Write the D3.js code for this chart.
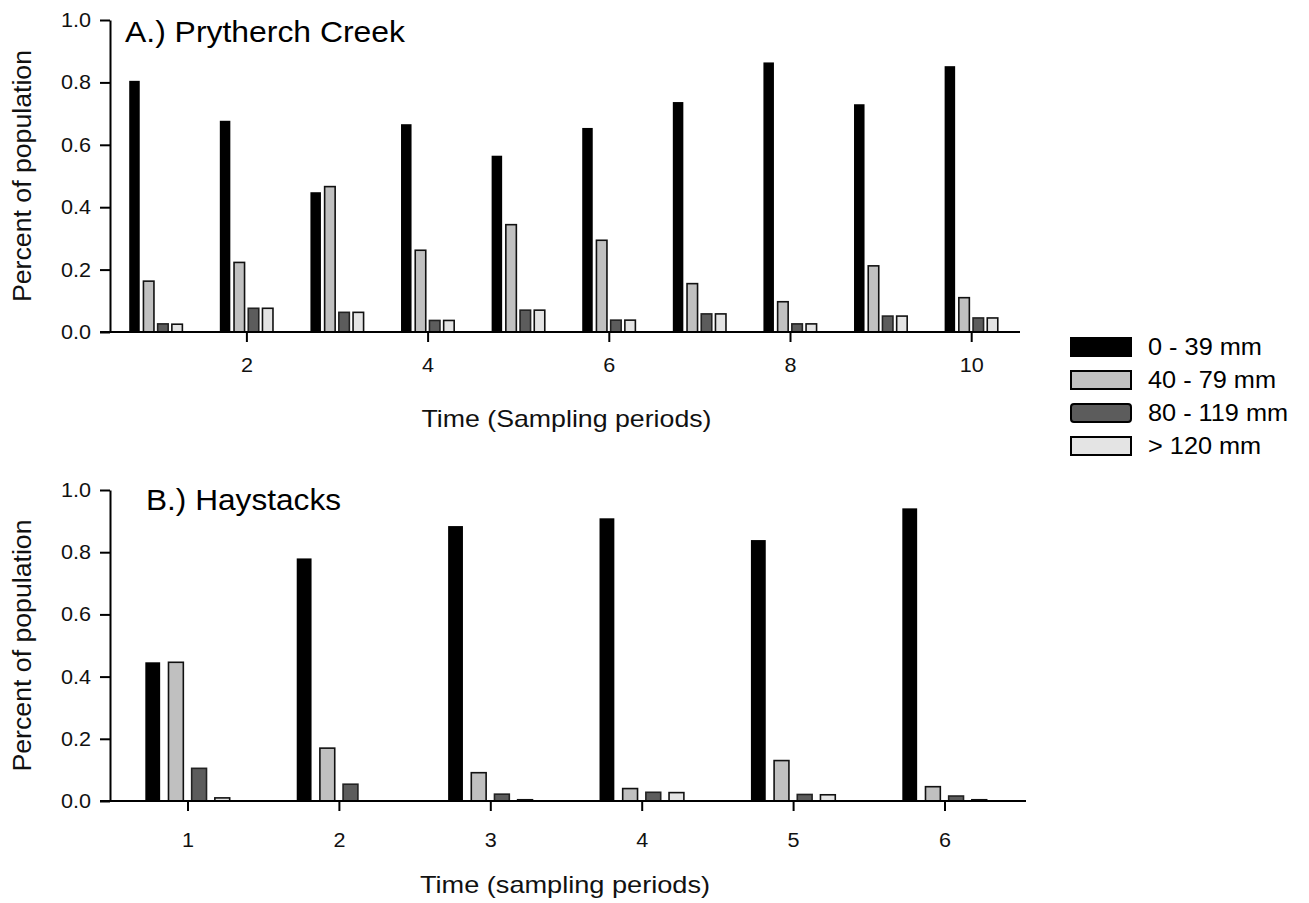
<!DOCTYPE html>
<html>
<head>
<meta charset="utf-8">
<script src="https://cdn.jsdelivr.net/npm/d3@7"></script>
<style>
  html, body { margin: 0; padding: 0; background: #fff; }
  svg { display: block; font-family: "Liberation Sans", Arial, Helvetica, sans-serif; }
</style>
</head>
<body>
<svg id="chart" width="1309" height="903"></svg>
<script>
// ---------- DATA ----------
const seriesNames = ["0 - 39 mm", "40 - 79 mm", "80 - 119 mm", "> 120 mm"];
const seriesFill = ["#000000", "#c0c0c0", "#5c5c5c", "#e4e4e4"];
const seriesStroke = ["#000000", "#111111", "#222222", "#111111"];

// Panel A: Prytherch Creek, sampling periods 1..10
const periodsA = [1, 2, 3, 4, 5, 6, 7, 8, 9, 10];
const a_0_39   = [0.805, 0.677, 0.448, 0.666, 0.565, 0.654, 0.737, 0.864, 0.730, 0.852];
const a_40_79  = [0.163, 0.223, 0.466, 0.262, 0.344, 0.294, 0.155, 0.097, 0.212, 0.110];
const a_80_119 = [0.026, 0.076, 0.063, 0.037, 0.070, 0.038, 0.058, 0.026, 0.051, 0.045];
const a_120    = [0.025, 0.076, 0.063, 0.037, 0.070, 0.038, 0.058, 0.026, 0.051, 0.045];
const tickValuesA = [2, 4, 6, 8, 10];

// Panel B: Haystacks, sampling periods 1..6
const periodsB = [1, 2, 3, 4, 5, 6];
const b_0_39   = [0.446, 0.780, 0.884, 0.909, 0.839, 0.941];
const b_40_79  = [0.446, 0.170, 0.091, 0.040, 0.130, 0.046];
const b_80_119 = [0.105, 0.054, 0.022, 0.028, 0.021, 0.016];
const b_120    = [0.010, 0.000, 0.004, 0.027, 0.020, 0.004];
const tickValuesB = [1, 2, 3, 4, 5, 6];

const yTicks = [0, 0.2, 0.4, 0.6, 0.8, 1.0];

// ---------- HELPERS ----------
const svg = d3.select("#chart");
function stretch(sel, factor) {
  sel.each(function () {
    const w = this.getComputedTextLength();
    this.setAttribute("textLength", (w * factor).toFixed(1));
    this.setAttribute("lengthAdjust", "spacingAndGlyphs");
  });
}

function panel(opts) {
  const g = svg.append("g");
  const x = d3.scaleLinear().domain(opts.xDomain).range(opts.xRange);
  const y = d3.scaleLinear().domain([0, 1]).range([opts.y0, opts.y1]);
  const inner = d3.scaleBand().domain(d3.range(4)).range(opts.bandRange)
    .paddingInner(opts.padInner).paddingOuter(0.1);

  const rows = opts.periods.map((p, i) => ({ p, vals: opts.series.map(s => s[i]) }));

  // bars
  const groups = g.selectAll("g.grp").data(rows).join("g").attr("class", "grp")
    .attr("transform", d => `translate(${x(d.p)},0)`);
  groups.selectAll("rect").data(d => d.vals.map((v, k) => ({ v, k })).filter(e => e.v > 0))
    .join("rect")
    .attr("x", e => inner(e.k))
    .attr("width", inner.bandwidth())
    .attr("y", e => y(e.v))
    .attr("height", e => y(0) - y(e.v))
    .attr("fill", e => seriesFill[e.k])
    .attr("stroke", e => seriesStroke[e.k])
    .attr("stroke-width", e => e.k === 0 ? 0 : 1.6);

  // y axis
  const yAxis = g.append("g").attr("transform", `translate(${opts.axisX},0)`)
    .call(d3.axisLeft(y).tickValues(yTicks).tickFormat(d3.format(".1f")).tickSize(10).tickPadding(9).tickSizeOuter(0));
  yAxis.select(".domain").attr("stroke", "#000").attr("stroke-width", 2);
  yAxis.selectAll(".tick line").attr("stroke", "#000").attr("stroke-width", 2);
  yAxis.selectAll(".tick text").attr("font-size", 20).attr("fill", "#111")
    .attr("font-family", "Liberation Sans, Arial, sans-serif").call(stretch, 1.08);

  // x axis
  const xAxis = g.append("g").attr("transform", `translate(0,${opts.y0})`)
    .call(d3.axisBottom(x).tickValues(opts.tickValues).tickFormat(d3.format("d")).tickSize(10).tickPadding(opts.xTickPad).tickSizeOuter(0));
  xAxis.select(".domain").remove();
  xAxis.append("line").attr("x1", opts.axisX - 10).attr("x2", opts.xLineEnd)
    .attr("y1", 0).attr("y2", 0).attr("stroke", "#000").attr("stroke-width", 2);
  xAxis.selectAll(".tick line").attr("stroke", "#000").attr("stroke-width", 2);
  xAxis.selectAll(".tick text").attr("font-size", 20).attr("fill", "#111")
    .attr("font-family", "Liberation Sans, Arial, sans-serif").call(stretch, 1.08);

  // panel title
  g.append("text").attr("x", opts.titleX).attr("y", opts.titleY)
    .attr("font-size", 30).attr("fill", "#000").text(opts.title)
    .attr("textLength", opts.titleLen).attr("lengthAdjust", "spacingAndGlyphs");

  // axis titles
  g.append("text").attr("x", (opts.xRange[0] + opts.xRange[1]) / 2 + opts.xTitleShift).attr("y", opts.xTitleY)
    .attr("text-anchor", "middle").attr("font-size", 24).attr("fill", "#111").text(opts.xTitle)
    .attr("textLength", 290).attr("lengthAdjust", "spacingAndGlyphs");
  g.append("text")
    .attr("transform", `translate(31,${(opts.y0 + opts.y1) / 2}) rotate(-90)`)
    .attr("text-anchor", "middle").attr("font-size", 25).attr("fill", "#111").text("Percent of population")
    .attr("textLength", 252).attr("lengthAdjust", "spacingAndGlyphs");
}

panel({
  periods: periodsA, series: [a_0_39, a_40_79, a_80_119, a_120],
  xDomain: [1, 10], xRange: [155.8, 971.2], y0: 332, y1: 20,
  bandRange: [-28, 28], padInner: 0.26, axisX: 110, xLineEnd: 1020,
  tickValues: tickValuesA, xTickPad: 16,
  title: "A.) Prytherch Creek", titleX: 125, titleY: 42, titleLen: 280,
  xTitle: "Time (Sampling periods)", xTitleY: 427, xTitleShift: 3
});

panel({
  periods: periodsB, series: [b_0_39, b_40_79, b_80_119, b_120],
  xDomain: [1, 6], xRange: [187.5, 944.5], y0: 801, y1: 490,
  bandRange: [-44.5, 44.5], padInner: 0.36, axisX: 110, xLineEnd: 1026,
  tickValues: tickValuesB, xTickPad: 22,
  title: "B.) Haystacks", titleX: 146, titleY: 510, titleLen: 195,
  xTitle: "Time (sampling periods)", xTitleY: 893, xTitleShift: -1
});

// ---------- LEGEND ----------
const legend = svg.append("g").attr("transform", "translate(1070,337)");
const li = legend.selectAll("g").data(seriesNames).join("g")
  .attr("transform", (d, i) => `translate(0,${i * 33})`);
li.append("rect").attr("x", 1).attr("y", 1).attr("width", 60).attr("height", 18)
  .attr("rx", (d, i) => i === 2 ? 3 : 0)
  .attr("fill", (d, i) => seriesFill[i]).attr("stroke", "#000").attr("stroke-width", 2);
li.append("text").attr("x", 78).attr("y", 18).attr("font-size", 23).attr("fill", "#000")
  .text(d => d).call(stretch, 1.1);
</script>
</body>
</html>
